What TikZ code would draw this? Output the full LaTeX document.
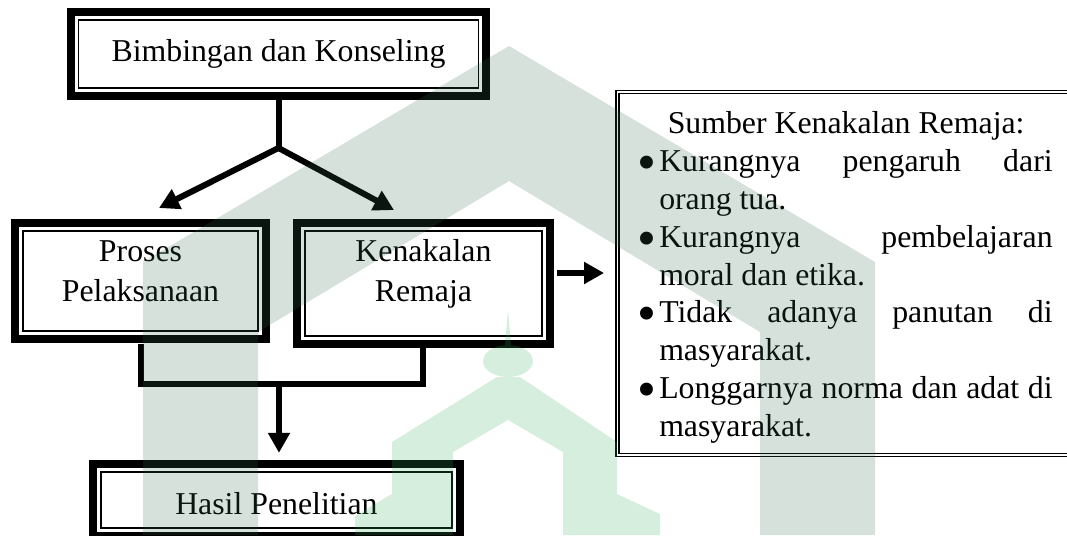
\documentclass[tikz,border=0pt]{standalone}
\usepackage{fontspec}
\setmainfont{Liberation Serif}
\usepackage{graphicx}
\usetikzlibrary{arrows.meta}
\definecolor{wmabu}{RGB}{50,105,80}
\definecolor{wmhijau}{RGB}{50,170,85}
\newcommand{\hurufkotak}{\fontsize{18.1pt}{0.8cm}\selectfont}
\newcommand{\hurufdaftar}{\fontsize{18.1pt}{0.76cm}\selectfont}
\newcommand{\duabaris}[2]{\begin{tabular}[t]{@{}c@{}}#1\\#2\end{tabular}}
\newcommand{\butir}{\llap{\raisebox{-0.18cm}{\scalebox{1.7}{\textbullet}}\hspace{0.05cm}}}
\newcommand{\penuh}[1]{\makebox[7.87cm][s]{#1}}

\begin{document}
\begin{tikzpicture}[x=0.02cm, y=-0.02cm,
    kotak/.style={draw, line width=0.036cm, inner sep=0pt, outer sep=0pt, font=\hurufkotak},
    bingkai/.style={line width=0.16cm},
    garis/.style={line width=0.12cm},
    panah/.style={garis, -{Triangle[length=0.4cm, width=0.42cm]}}]
    \useasboundingbox (0,0) rectangle (1067,535);
    \clip (0,0) rectangle (1067,535);

    % kotak utama
    \node[kotak, minimum width=8cm, minimum height=1.368cm, text height=0.44cm, text depth=0.124cm] (bk) at (278.5,53.8) {Bimbingan dan Konseling};
    \node[kotak, minimum width=4.7cm, minimum height=2cm, text height=0.44cm, text depth=1.24cm] (pp) at (140.5,281) {\duabaris{Proses}{Pelaksanaan}};
    \node[kotak, minimum width=4.734cm, minimum height=2.092cm, text height=0.44cm, text depth=1.332cm] (kr) at (423.4,283.3) {\duabaris{Kenakalan}{Remaja}};
    \node[kotak, minimum width=7.016cm, minimum height=1.128cm, text height=0.72cm, text depth=0.132cm] (hp) at (276.4,500) {Hasil Penelitian};
    \foreach \n in {bk,pp,kr,hp}
        \draw[bingkai] ([shift={(-0.16cm,0.16cm)}]\n.north west) rectangle ([shift={(0.16cm,-0.16cm)}]\n.south east);

    \node[draw, double, double distance=0.036cm, line width=0.026cm, inner sep=0pt, outer sep=0pt,
          minimum width=9.538cm, minimum height=7.26cm, text height=0.44cm, text depth=6.06cm,
          font=\hurufdaftar] (sk) at (855.95,273.5) {%
        \begin{tabular}[t]{@{}l@{}}
            \hspace*{0.17cm}Sumber Kenakalan Remaja:\\
            \butir\penuh{Kurangnya pengaruh dari}\\
            orang tua.\\
            \butir\penuh{Kurangnya pembelajaran}\\
            moral dan etika.\\
            \butir\penuh{Tidak adanya panutan di}\\
            masyarakat.\\
            \butir\penuh{Longgarnya norma dan adat di}\\
            masyarakat.
        \end{tabular}};

    % penghubung
    \coordinate (cabang) at ([yshift=-1.2cm]bk.south);
    \coordinate (gabung) at (279,384);
    \draw[garis] ([yshift=-0.16cm]bk.south) -- (cabang);
    \draw[panah] (cabang) -- ([shift={(0.37cm,0.46cm)}]pp.north);
    \draw[panah] (cabang) -- ([shift={(-0.588cm,0.42cm)}]kr.north);
    \draw[garis] ([yshift=-0.26cm]pp.south) |- (gabung) -| ([yshift=-0.24cm]kr.south);
    \draw[panah, shorten >=0.38cm] (gabung) -- (gabung |- hp.north);
    \coordinate (mulai) at ([shift={(0.306cm,0.206cm)}]kr.east);
    \draw[panah, shorten >=0.27cm] (mulai) -- (mulai -| sk.west);

    % tanda air
    \fill[wmabu, fill opacity=0.2] (143,535) -- (143,262) -- (509,46) -- (875,262) -- (875,535) -- (760,535)
        -- (760,332) -- (509,181) -- (258,332) -- (258,535) -- cycle;
    \fill[wmhijau, fill opacity=0.2] (355,535) -- (355,516) -- (392,494) -- (392,442) -- (497,377) -- (520,377)
        -- (617,442) -- (617,494) -- (660,514) -- (660,535) -- (563,535) -- (563,452) -- (508,420)
        -- (453,452) -- (453,535) -- cycle;
    \fill[wmhijau, fill opacity=0.2] (508,361) ellipse[x radius=0.5cm, y radius=0.32cm];
    \fill[wmhijau, fill opacity=0.2] (508,310) -- (511,345) -- (505,345) -- cycle;
\end{tikzpicture}
\end{document}
